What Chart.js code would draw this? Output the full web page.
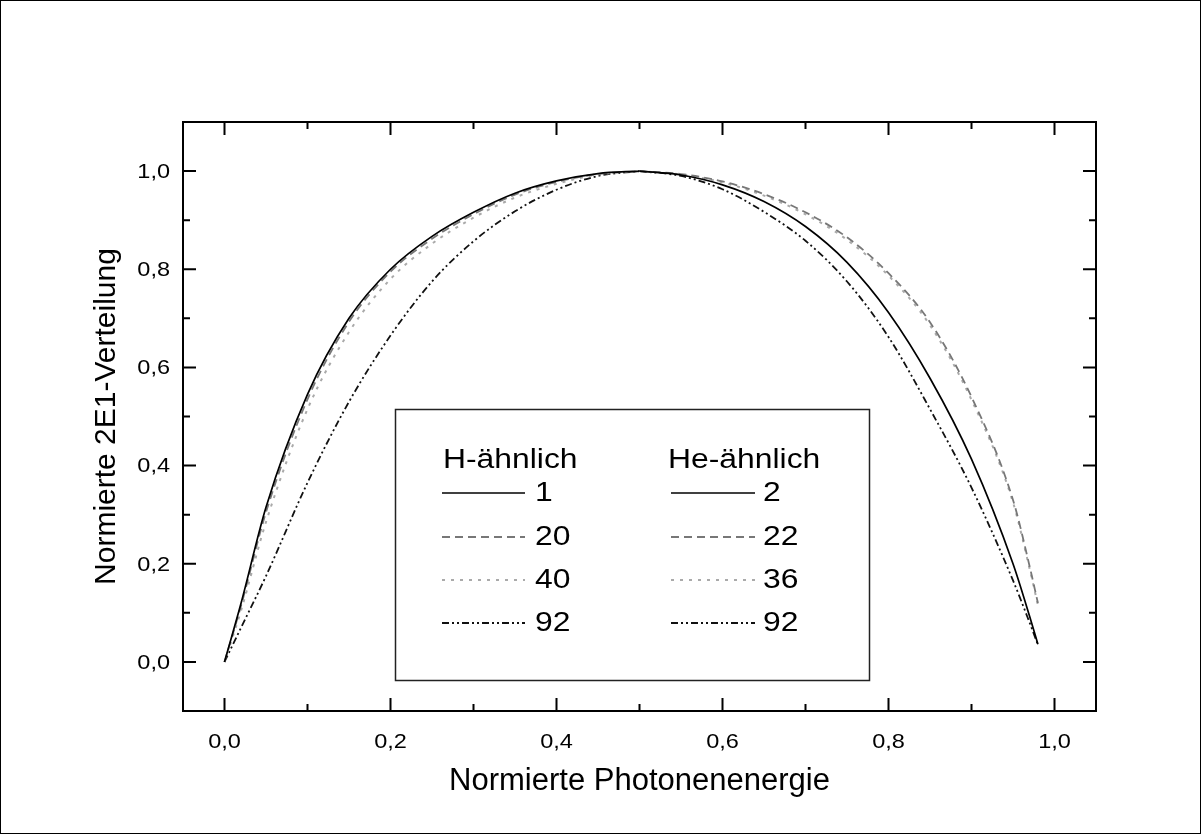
<!DOCTYPE html>
<html>
<head>
<meta charset="utf-8">
<script src="https://cdn.jsdelivr.net/npm/chart.js@4.4.1/dist/chart.umd.min.js"></script>
<style>
  html, body { margin: 0; padding: 0; background: #fff; }
  canvas { display: block; }
</style>
</head>
<body>
<canvas id="chart" width="1201" height="834"></canvas>
<script>
// H-ähnlich: left half (0 .. 0.5)
const xLeft = [0, 0.02, 0.05, 0.1, 0.15, 0.2, 0.25, 0.3, 0.35, 0.4, 0.45, 0.5];
const h1  = [0, 0.12, 0.315, 0.545, 0.70, 0.80, 0.867, 0.916, 0.955, 0.980, 0.995, 1.0];
const h20 = [0, 0.115, 0.305, 0.535, 0.693, 0.795, 0.862, 0.912, 0.952, 0.978, 0.994, 1.0];
const h40 = [0, 0.105, 0.285, 0.515, 0.672, 0.78, 0.852, 0.905, 0.946, 0.974, 0.993, 1.0];
const h92 = [0, 0.07, 0.175, 0.365, 0.53, 0.665, 0.775, 0.857, 0.918, 0.962, 0.990, 1.0];

// He-ähnlich: right half (0.5 .. 0.98)
const xRight = [0.5, 0.55, 0.6, 0.65, 0.7, 0.75, 0.8, 0.85, 0.9, 0.95, 0.97, 0.98];
const he2  = [1, 0.992, 0.972, 0.938, 0.887, 0.814, 0.712, 0.578, 0.413, 0.20, 0.093, 0.036];
const he22 = [1, 0.994, 0.979, 0.953, 0.916, 0.865, 0.792, 0.692, 0.54, 0.33, 0.195, 0.12];
const he36 = [1, 0.993, 0.977, 0.950, 0.912, 0.86, 0.787, 0.686, 0.534, 0.325, 0.19, 0.116];
const he92 = [1, 0.99, 0.963, 0.917, 0.858, 0.775, 0.662, 0.515, 0.355, 0.166, 0.08, 0.035];

// axis ticks
const xTicks = [0, 0.2, 0.4, 0.6, 0.8, 1.0];
const xMinor = [0.1, 0.3, 0.5, 0.7, 0.9];
const yTicks = [0, 0.2, 0.4, 0.6, 0.8, 1.0];
const yMinor = [0.1, 0.3, 0.5, 0.7, 0.9];

const FONT = '"Liberation Sans", Arial, sans-serif';
const fmt = v => v.toFixed(1).replace('.', ',');
const pts = (xs, ys) => xs.map((x, i) => ({ x: x, y: ys[i] }));

// line styles
const styles = {
  solid:  { borderColor: '#000', borderWidth: 1.7, borderDash: [] },
  dash:   { borderColor: '#777', borderWidth: 1.8, borderDash: [8, 5] },
  dot:    { borderColor: '#aaa', borderWidth: 2, borderDash: [3, 6] },
  dashdd: { borderColor: '#111', borderWidth: 1.8, borderDash: [7, 3, 2, 3, 2, 3] }
};

function ds(label, xs, ys, st) {
  return Object.assign({ label: label, data: pts(xs, ys), fill: false, cubicInterpolationMode: 'monotone' }, st);
}

const datasets = [
  ds('1', xLeft, h1, styles.solid),
  ds('20', xLeft, h20, styles.dash),
  ds('40', xLeft, h40, styles.dot),
  ds('92', xLeft, h92, styles.dashdd),
  ds('2', xRight, he2, styles.solid),
  ds('22', xRight, he22, styles.dash),
  ds('36', xRight, he36, styles.dot),
  ds('92', xRight, he92, styles.dashdd)
];

// text slightly wider than tall, as in the original figure
function wideText(ctx, s, x, y, sx) {
  ctx.save();
  ctx.translate(x, y);
  ctx.scale(sx || 1.18, 1);
  ctx.fillText(s, 0, 0);
  ctx.restore();
}

// frame with inward ticks on all four sides, plus tick labels
const frame = {
  id: 'frame',
  afterDatasetsDraw(chart) {
    const { ctx, chartArea: a, scales: { x, y } } = chart;
    ctx.save();
    ctx.strokeStyle = '#000';
    ctx.lineWidth = 2;
    ctx.strokeRect(a.left, a.top, a.right - a.left, a.bottom - a.top);
    ctx.beginPath();
    const xt = (v, len) => {
      const p = x.getPixelForValue(v);
      ctx.moveTo(p, a.bottom); ctx.lineTo(p, a.bottom - len);
      ctx.moveTo(p, a.top); ctx.lineTo(p, a.top + len);
    };
    const yt = (v, len) => {
      const p = y.getPixelForValue(v);
      ctx.moveTo(a.left, p); ctx.lineTo(a.left + len, p);
      ctx.moveTo(a.right, p); ctx.lineTo(a.right - len, p);
    };
    xTicks.forEach(v => xt(v, 13));
    xMinor.forEach(v => xt(v, 7));
    yTicks.forEach(v => yt(v, 13));
    yMinor.forEach(v => yt(v, 7));
    ctx.stroke();

    ctx.fillStyle = '#000';
    ctx.font = '21px ' + FONT;
    ctx.textBaseline = 'middle';
    ctx.textAlign = 'center';
    xTicks.forEach(v => wideText(ctx, fmt(v), x.getPixelForValue(v), a.bottom + 31, 1.12));
    ctx.textAlign = 'right';
    yTicks.forEach(v => wideText(ctx, fmt(v), a.left - 13, y.getPixelForValue(v) + 1, 1.12));
    ctx.restore();
  }
};

// boxed two-column legend + outer border
const legendBox = {
  id: 'legendBox',
  afterDraw(chart) {
    const ctx = chart.ctx;
    const dsets = chart.data.datasets;
    ctx.save();
    ctx.fillStyle = '#fff';
    ctx.fillRect(395, 409, 474, 271);
    ctx.strokeStyle = '#222';
    ctx.lineWidth = 1.5;
    ctx.strokeRect(395.5, 409.5, 474, 271);

    ctx.fillStyle = '#000';
    ctx.font = '27px ' + FONT;
    ctx.textBaseline = 'middle';
    ctx.textAlign = 'left';
    wideText(ctx, 'H-ähnlich', 443, 461);
    wideText(ctx, 'He-ähnlich', 668, 461);

    const rows = [493, 537, 580, 623];
    const cols = [{ x0: 442, x1: 525, tx: 535, off: 0 }, { x0: 671, x1: 755, tx: 763, off: 4 }];
    cols.forEach(c => {
      rows.forEach((ry, i) => {
        const d = dsets[c.off + i];
        ctx.beginPath();
        ctx.strokeStyle = d.borderColor;
        ctx.lineWidth = d.borderWidth;
        ctx.setLineDash(d.borderDash);
        ctx.moveTo(c.x0, ry);
        ctx.lineTo(c.x1, ry);
        ctx.stroke();
        ctx.setLineDash([]);
        ctx.fillStyle = '#000';
        wideText(ctx, d.label, c.tx, ry + 1);
      });
    });

    ctx.strokeStyle = '#000';
    ctx.lineWidth = 1;
    ctx.strokeRect(0.5, 0.5, 1200, 833);
    ctx.restore();
  }
};

new Chart(document.getElementById('chart'), {
  type: 'line',
  data: { datasets: datasets },
  plugins: [frame, legendBox],
  options: {
    responsive: false,
    animation: false,
    layout: { padding: { top: 122, right: 105, left: 0, bottom: 0 } },
    plugins: { legend: { display: false }, tooltip: { enabled: false } },
    elements: { point: { radius: 0 }, line: { tension: 0 } },
    scales: {
      x: {
        type: 'linear',
        min: -0.05,
        max: 1.05,
        afterFit(s) { s.height = 123; },
        afterBuildTicks(s) { s.ticks = xTicks.map(v => ({ value: v })); },
        grid: { display: false },
        border: { display: false },
        ticks: { display: false },
        title: { display: true, text: 'Normierte Photonenenergie', color: '#000', font: { family: FONT, size: 31 }, padding: { top: 0, bottom: 34 } }
      },
      y: {
        type: 'linear',
        min: -0.1,
        max: 1.1,
        afterFit(s) { s.width = 183; },
        afterBuildTicks(s) { s.ticks = yTicks.map(v => ({ value: v })); },
        grid: { display: false },
        border: { display: false },
        ticks: { display: false },
        title: { display: true, text: 'Normierte 2E1-Verteilung', color: '#000', font: { family: FONT, size: 30 }, padding: { top: 89, bottom: 0 } }
      }
    }
  }
});
</script>
</body>
</html>
